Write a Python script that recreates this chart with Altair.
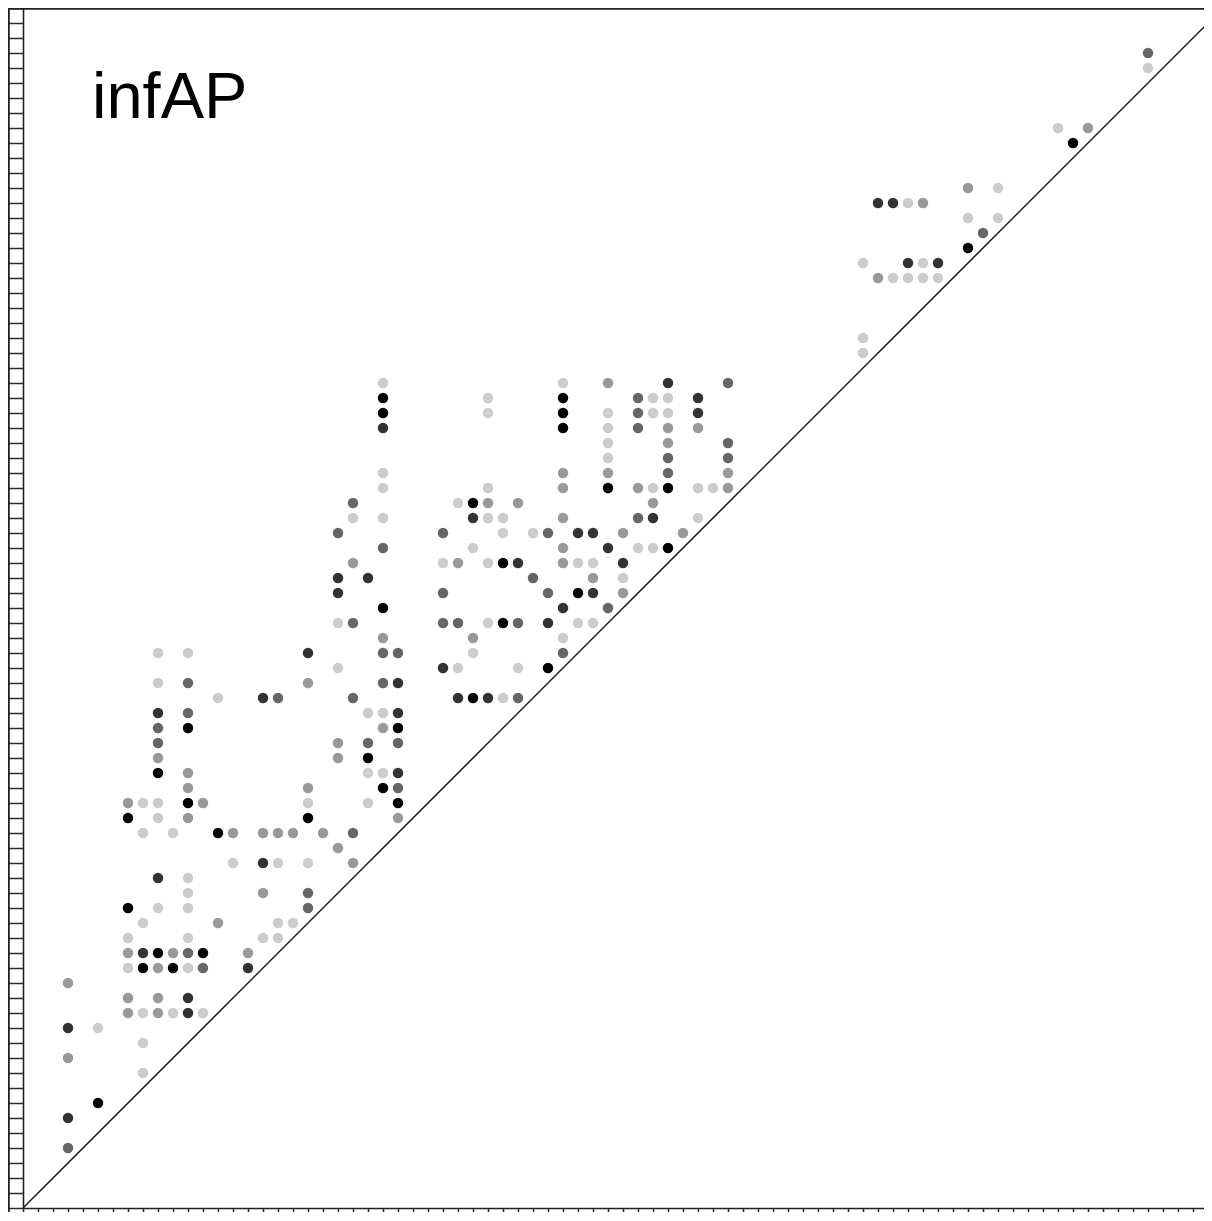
import altair as alt
import pandas as pd

# grid rows (y index) with the x indices of the dots in that row and their grey level
row_y = [4, 6, 7, 9, 10, 11, 12, 13, 14, 15, 16, 17, 18, 19, 20, 21, 22, 23, 24, 25,
         26, 27, 28, 29, 30, 31, 32, 33, 34, 35, 36, 37, 38, 39, 40, 41, 42, 43, 44, 45,
         46, 47, 48, 49, 50, 51, 52, 53, 54, 55, 57, 58, 62, 63, 64, 65, 66, 67, 68, 71,
         72, 76, 77]

row_x = [
    [3], [3], [5], [8], [3], [8], [3, 5],
    [7, 8, 9, 10, 11, 12],
    [7, 9, 11],
    [3],
    [7, 8, 9, 10, 11, 12, 15],
    [7, 8, 9, 10, 11, 12, 15],
    [7, 11, 16, 17],
    [8, 13, 17, 18],
    [7, 9, 11, 19],
    [11, 16, 19],
    [9, 11],
    [14, 16, 17, 19, 22],
    [21],
    [8, 10, 13, 14, 16, 17, 18, 20, 22],
    [7, 9, 11, 19, 25],
    [7, 8, 9, 11, 12, 19, 23, 25],
    [11, 19, 24, 25],
    [9, 11, 23, 24, 25],
    [9, 21, 23],
    [9, 21, 23, 25],
    [9, 11, 24, 25],
    [9, 11, 23, 24, 25],
    [13, 16, 17, 22, 29, 30, 31, 32, 33],
    [9, 11, 19, 24, 25],
    [21, 28, 29, 33, 35],
    [9, 11, 19, 24, 25, 30, 36],
    [24, 30, 36],
    [21, 22, 28, 29, 31, 32, 33, 35, 37, 38],
    [24, 36, 39],
    [21, 28, 35, 37, 38, 40],
    [21, 23, 34, 38, 40],
    [22, 28, 29, 31, 32, 33, 36, 37, 38, 40],
    [24, 30, 36, 39, 41, 42, 43],
    [21, 28, 32, 34, 35, 37, 38, 40, 44],
    [22, 24, 30, 31, 32, 36, 41, 42, 45],
    [22, 29, 30, 31, 33, 42],
    [24, 31, 36, 39, 41, 42, 43, 45, 46, 47],
    [24, 36, 39, 43, 47],
    [39, 43, 47],
    [39, 43, 47],
    [24, 36, 39, 41, 43, 45],
    [24, 31, 36, 39, 41, 42, 43, 45],
    [24, 31, 36, 41, 42, 43, 45],
    [24, 36, 39, 43, 47],
    [56],
    [56],
    [57, 58, 59, 60, 61],
    [56, 59, 60, 61],
    [63],
    [64],
    [63, 65],
    [57, 58, 59, 60],
    [63, 65],
    [70],
    [69, 71],
    [75],
    [75],
]

# K = black, D = dark, M = mid, G = grey, L = light
row_shade = [
    "M", "D", "K", "L", "G", "L", "DL",
    "GLGLDL",
    "GGD",
    "G",
    "LKGKLMD",
    "GDKGMKG",
    "LLLL",
    "LGLL",
    "KLLM",
    "LGM",
    "DL",
    "LDLLG",
    "G",
    "LLKGGGGGM",
    "KLGKG",
    "GLLKGLLK",
    "GGKM",
    "KGLLD",
    "GGK",
    "MGMM",
    "MKGK",
    "DMLLD",
    "LDMMDKDLM",
    "LMGMD",
    "LDLLK",
    "LLDMMLM",
    "GGL",
    "LMMMLKMDLL",
    "KDM",
    "DMMKDG",
    "DDMGL",
    "GLGLKDGLLD",
    "MLGDLLK",
    "MMLLMDDGG",
    "LLDLLGMDL",
    "MLKGGG",
    "LLGKGLKLLG",
    "LGGMG",
    "LMM",
    "LGM",
    "DKLMGG",
    "KLKLMLLD",
    "KLKMLLD",
    "LLGDM",
    "L",
    "L",
    "GLLLL",
    "LDLD",
    "K",
    "M",
    "LL",
    "DDLG",
    "GL",
    "K",
    "LG",
    "L",
    "M",
]

shade_names = ["K", "D", "M", "G", "L"]
shade_colors = ["#000000", "#333333", "#666666", "#999999", "#cccccc"]

diag_vals = [0, 80]
label_text = ["infAP"]

xs, ys, ss = [], [], []
for yv, xl, sh in zip(row_y, row_x, row_shade):
    assert len(xl) == len(sh), (yv, xl, sh)
    for xv, s in zip(xl, sh):
        xs.append(xv)
        ys.append(yv)
        ss.append(s)

df = pd.DataFrame({"x": xs, "y": ys, "shade": ss})
diag_df = pd.DataFrame({"x": diag_vals, "y": diag_vals})
one = pd.DataFrame({"t": label_text})

tick_vals = list(range(0, 81))

PLOT_W = 1181          # visible part of the 15 px-per-unit square plot
PLOT_H = 1200
X_MAX = PLOT_W / 15.0  # keeps 15 px per grid unit horizontally


def make_axis():
    return alt.Axis(values=tick_vals, tickCount=200, labels=False, title=None, grid=False,
                    tickSize=15, tickWidth=1.5, tickColor="#2a2a2a",
                    domainColor="#222222", domainWidth=1.6)


xsc = alt.Scale(domain=[0, X_MAX], nice=False, zero=False)
ysc = alt.Scale(domain=[0, 80], nice=False, zero=False)

points = alt.Chart(df).mark_circle(size=110, opacity=1).encode(
    x=alt.X("x:Q", scale=xsc, axis=make_axis()),
    y=alt.Y("y:Q", scale=ysc, axis=make_axis()),
    color=alt.Color("shade:N", scale=alt.Scale(domain=shade_names, range=shade_colors), legend=None),
)

diag = alt.Chart(diag_df).mark_line(color="#1a1a1a", strokeWidth=1.5).encode(
    x=alt.X("x:Q", scale=xsc),
    y=alt.Y("y:Q", scale=ysc),
)

label = alt.Chart(one).mark_text(
    align="left", baseline="alphabetic", fontSize=65, font="Liberation Sans", color="black"
).encode(text="t:N", x=alt.value(69), y=alt.value(110))

left_border = alt.Chart(one).mark_rule(color="#222222", strokeWidth=1.8).encode(
    x=alt.value(-14.1), y=alt.value(0), y2=alt.value(1230)
)
top_border = alt.Chart(one).mark_rule(color="#222222", strokeWidth=1.8).encode(
    y=alt.value(0.9), x=alt.value(-15), x2=alt.value(1210)
)

chart = alt.layer(points, diag, label, left_border, top_border).properties(
    width=PLOT_W,
    height=PLOT_H,
    autosize=alt.AutoSizeParams(type="none"),
    padding={"left": 15, "top": 0, "right": 0, "bottom": 4},
    background="white",
).configure_view(stroke=None)

chart.save("out.html", embed_options={"renderer": "svg", "actions": False})
